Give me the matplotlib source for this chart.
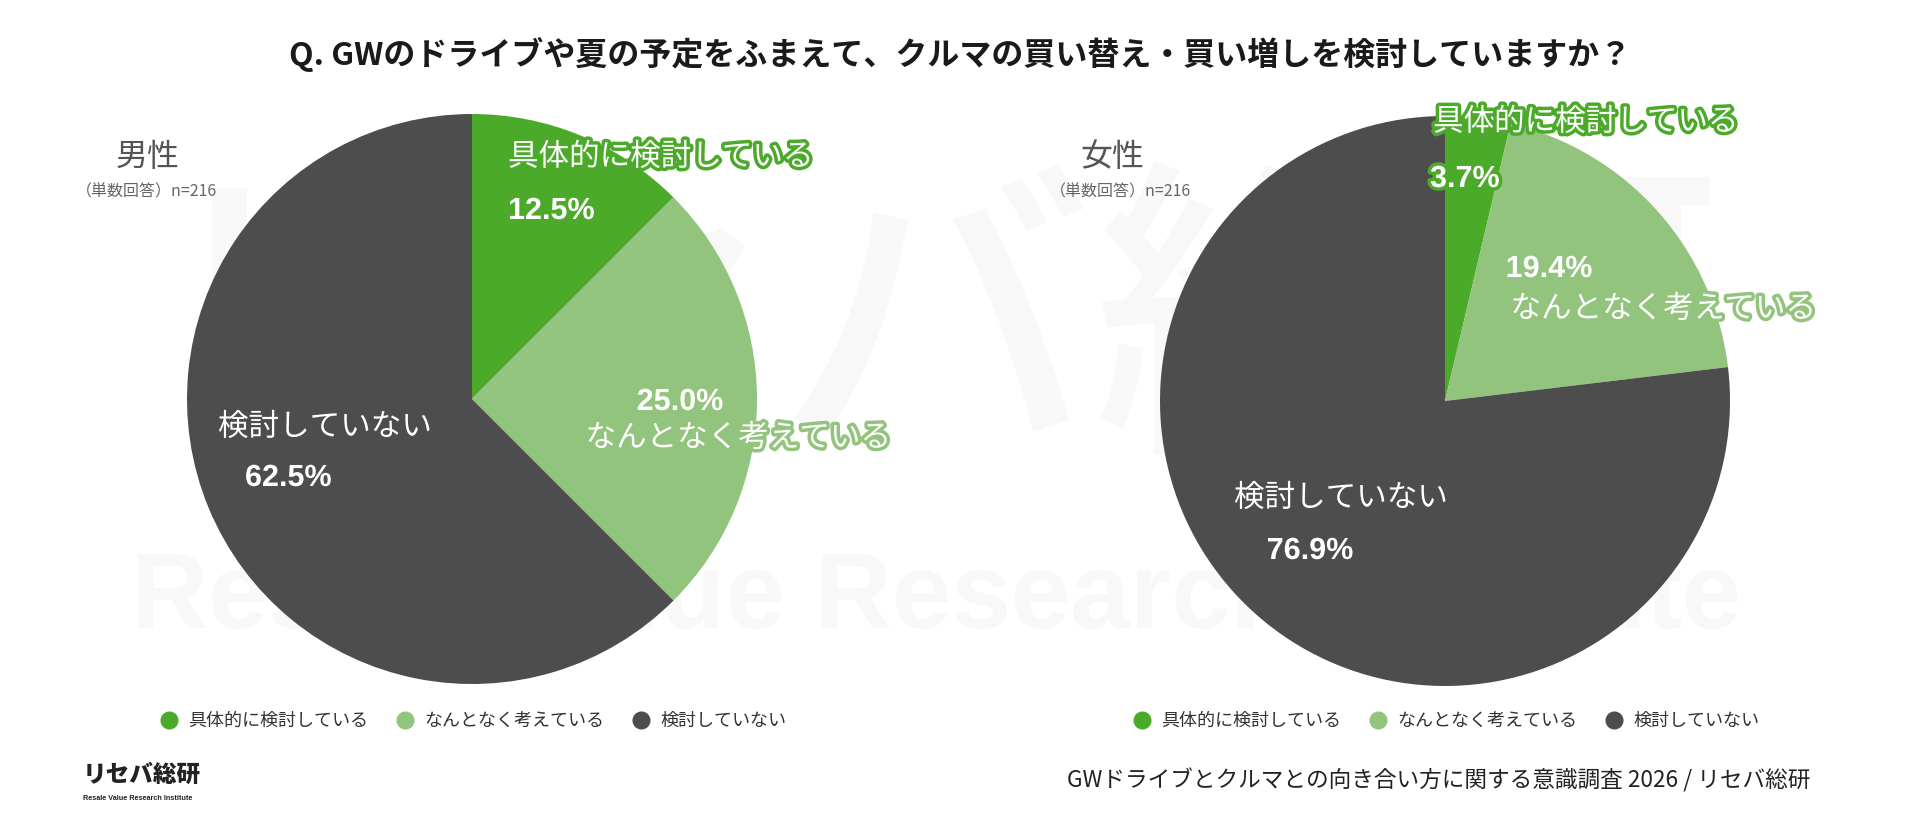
import matplotlib
matplotlib.use('Agg')
import matplotlib.pyplot as plt
import matplotlib.patheffects as pe
from matplotlib.lines import Line2D

plt.rcParams['font.family'] = ['Noto Sans CJK JP', 'DejaVu Sans']

title = 'Q. GWのドライブや夏の予定をふまえて、クルマの買い替え・買い増しを検討していますか？'
categories = ['具体的に検討している', 'なんとなく考えている', '検討していない']
male_values = [12.5, 25.0, 62.5]
female_values = [3.7, 19.4, 76.9]
groups = ['男性', '女性']
n_note = '（単数回答）n=216'
source = 'GWドライブとクルマとの向き合い方に関する意識調査 2026 / リセバ総研'
colors = ['#4CAA2A', '#93C47D', '#4D4D4D']

W, H = 1920, 817
fig = plt.figure(figsize=(W / 100, H / 100), dpi=100)
fig.patch.set_facecolor('white')


def fx(px):
    return px / W


def fy(py):
    return 1 - py / H


# very faint watermark behind the pies
fig.text(fx(936), fy(336), 'リセバ総研', fontsize=228, fontweight='medium',
         color='#f8f8f8', ha='center', va='center', zorder=-1)
fig.text(fx(936), fy(600), 'Resale Value Research Institute', fontsize=77,
         fontweight='bold', color='#f8f8f8', ha='center', va='center',
         family=['Liberation Sans'], zorder=-1)

fig.text(0.5, fy(55), title, fontsize=23, fontweight='bold', color='#1a1a1a',
         ha='center', va='center')

R = 285
pies = [
    (groups[0], male_values, (472, 399)),
    (groups[1], female_values, (1445, 401)),
]

num_font = ['Liberation Sans', 'Noto Sans CJK JP']

# label offsets (px from pie center): name pos, value pos, alignment
label_pos = {
    '男性': [
        ((36, -242, 'left'), (36, -188, 'left')),
        ((266, 39, 'center'), (208, 3, 'center')),
        ((-254, 28, 'left'), (-227, 79, 'left')),
    ],
    '女性': [
        ((-12, -279, 'left'), (-15, -222, 'left')),
        ((218, -92, 'center'), (104, -132, 'center')),
        ((-211, 97, 'left'), (-135, 150, 'center')),
    ],
}

for name, vals, (cx, cy) in pies:
    ax = fig.add_axes([fx(cx - R), fy(cy + R), 2 * R / W, 2 * R / H])
    wedges, _ = ax.pie(vals, colors=colors, startangle=90, counterclock=False,
                       radius=1, wedgeprops=dict(linewidth=0))
    ax.set_xlim(-1, 1)
    ax.set_ylim(-1, 1)
    ax.set_aspect('auto')
    ax.axis('off')

    for i, (cat, v) in enumerate(zip(categories, vals)):
        (nx, ny, nha), (vx, vy, vha) = label_pos[name][i]
        stroke = [pe.withStroke(linewidth=5, foreground=colors[i])]
        fig.text(fx(cx + nx), fy(cy + ny), cat, fontsize=22, color='white',
                 ha=nha, va='center', path_effects=stroke, zorder=5)
        fig.text(fx(cx + vx), fy(cy + vy), f'{v:.1f}%', fontsize=22,
                 fontweight='bold', color='white', ha=vha, va='center',
                 family=num_font, path_effects=stroke, zorder=5)

    # group title and note
    gx = cx - 356 if name == '男性' else cx - 365
    fig.text(fx(gx), fy(157), name, fontsize=23, color='#555555',
             ha='left', va='center')
    fig.text(fx(gx - 40 if name == '男性' else gx - 30), fy(192), n_note,
             fontsize=11.5, color='#666666', ha='left', va='center')

    handles = [Line2D([0], [0], marker='o', linestyle='none', markersize=12,
                      markerfacecolor=c, markeredgecolor=c) for c in colors]
    fig.legend(handles, categories, loc='center', ncol=3, frameon=False,
               bbox_to_anchor=(fx(cx + 1), fy(721)), fontsize=13,
               handletextpad=0.6, columnspacing=1.5, handlelength=1.0,
               labelcolor='#333333')

# logo bottom-left
fig.text(fx(83), fy(775), 'リセバ総研', fontsize=17, fontweight='black',
         color='#222222', ha='left', va='center')
fig.text(fx(83), fy(799), 'Resale Value Research Institute', fontsize=5.2,
         fontweight='bold', color='#222222', ha='left', va='center',
         family=['Liberation Sans'])

fig.text(fx(1810), fy(780), source, fontsize=16.3, color='#222222',
         ha='right', va='center')

fig.savefig('out.png', dpi=100, facecolor='white')
